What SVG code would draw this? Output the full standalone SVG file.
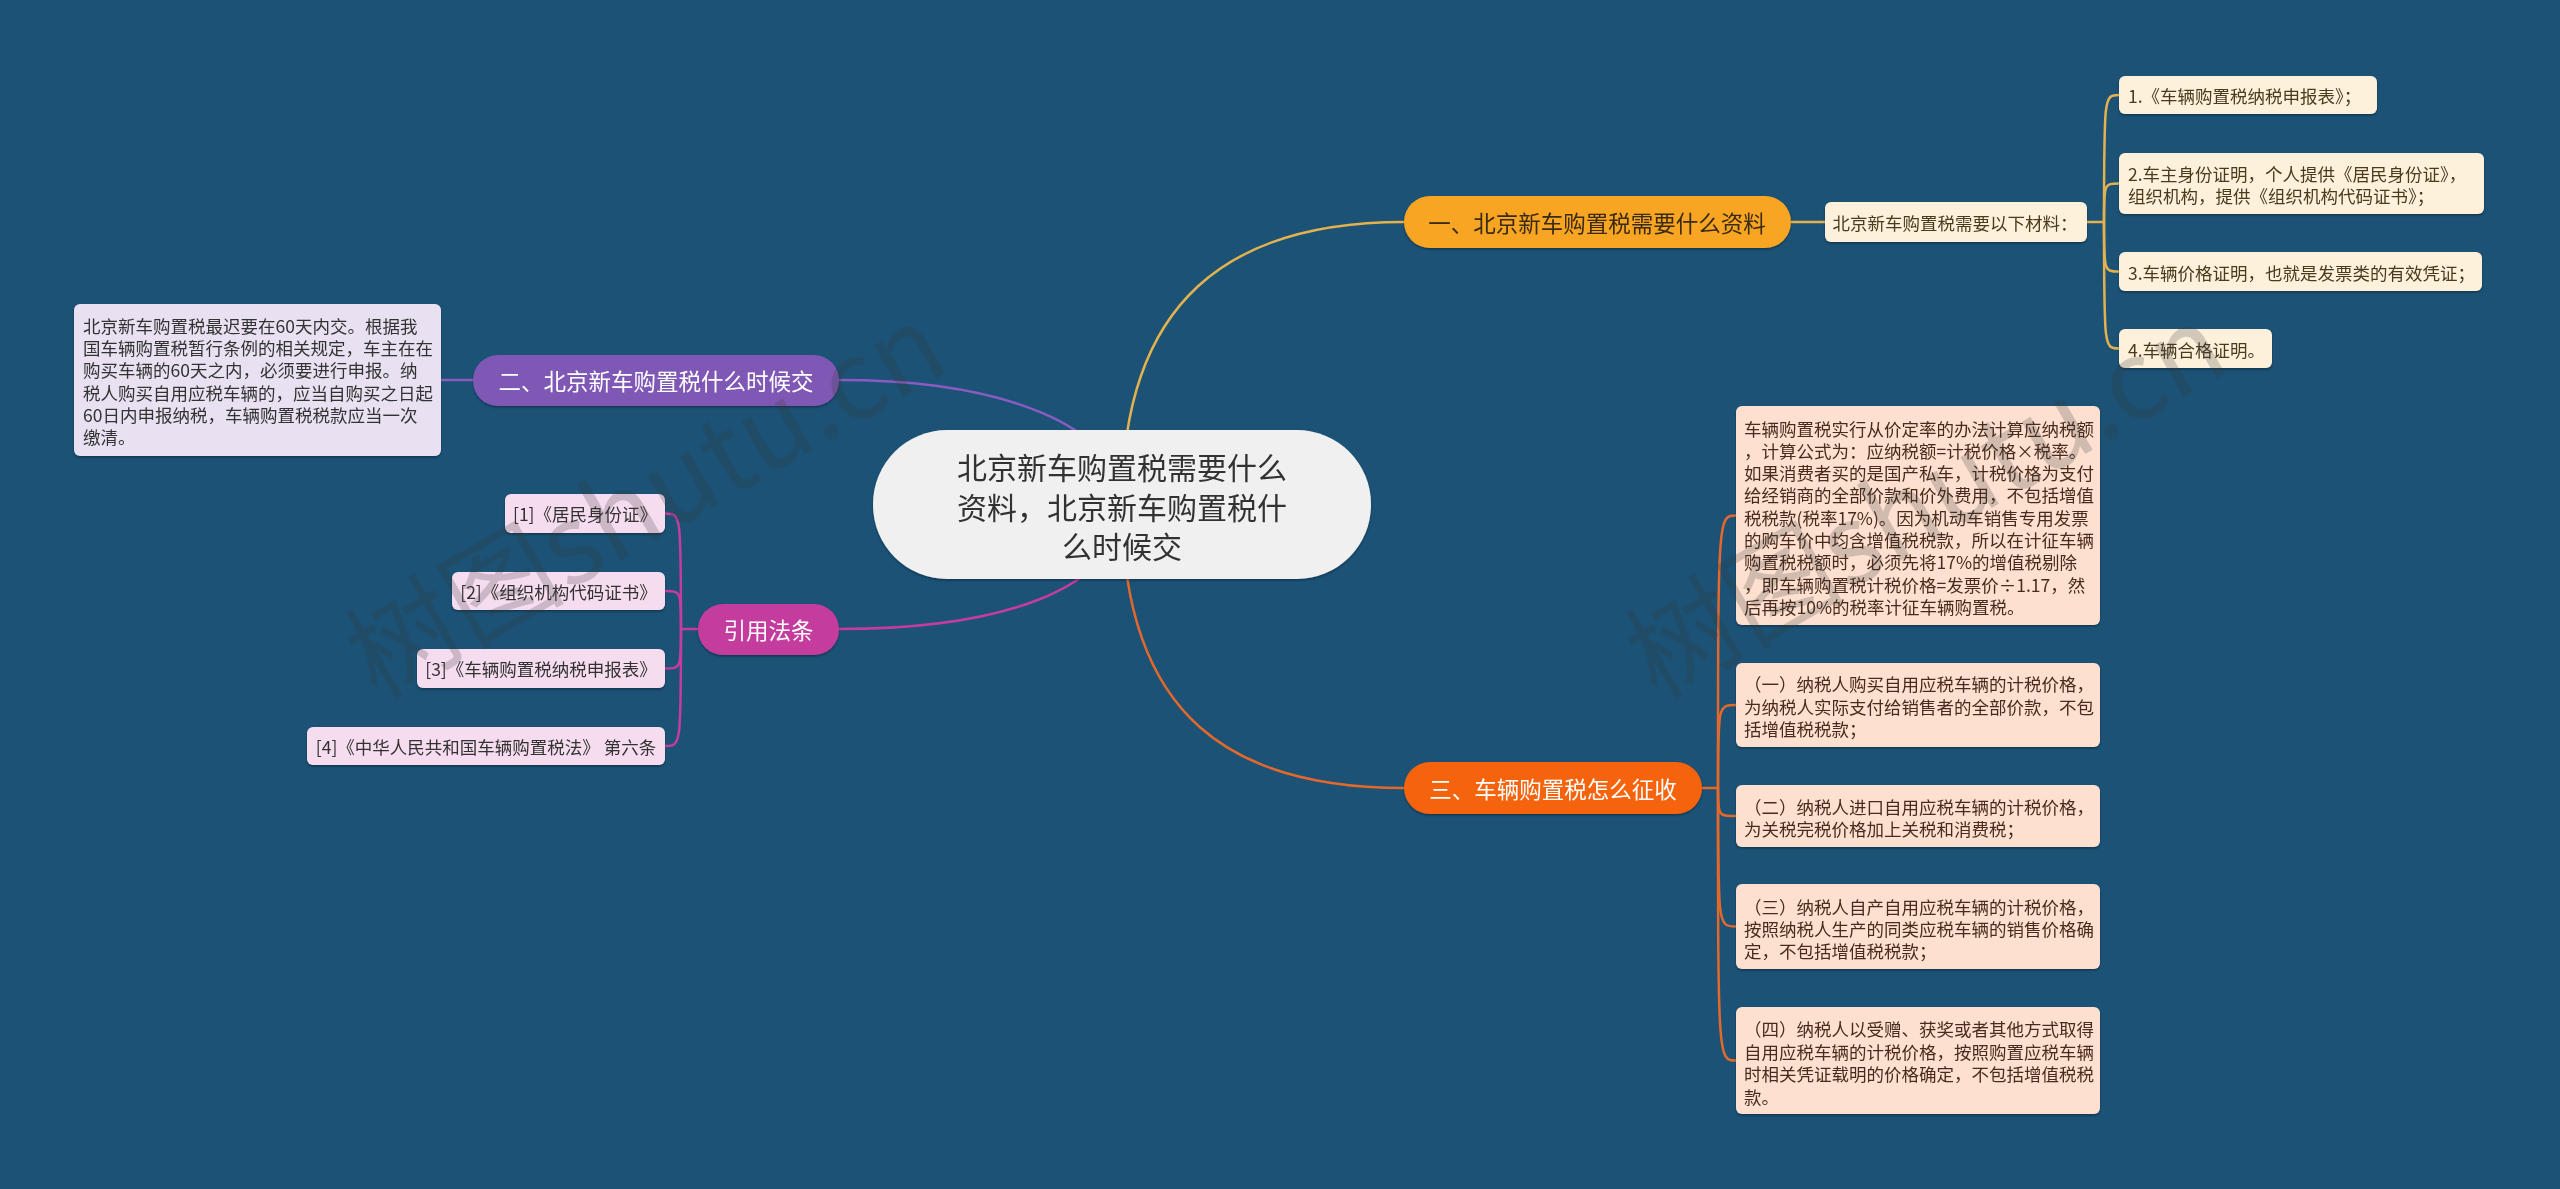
<svg xmlns="http://www.w3.org/2000/svg" width="2560" height="1189" viewBox="0 0 2560 1189">
<defs>
<filter id="sh" x="-10%" y="-20%" width="120%" height="150%">
<feDropShadow dx="0" dy="1.5" stdDeviation="1.2" flood-color="#000" flood-opacity="0.35"/>
</filter>
</defs>
<style>
text{font-family:"Noto Sans CJK SC","Noto Sans",sans-serif;dominant-baseline:central}
.c{font-size:30px;fill:#333;text-anchor:middle}
.m{font-size:22.5px;text-anchor:middle}
.s{font-size:17.5px}
.mid{text-anchor:middle}
.ln{fill:none;stroke-width:2.5}
.gold{stroke:#e3b24f}
.purp{stroke:#8a5cc2}
.mag{stroke:#c43c9e}
.org{stroke:#e2692b}
.wm{font-size:110px;fill:#3a3a3a;opacity:0.22;text-anchor:middle;dominant-baseline:alphabetic}
</style>
<rect width="2560" height="1189" fill="#1b5276"/>
<g id="connectors">
<path class="ln gold" d="M1122 504 C1122 300 1230 222 1404 222"/>
<path class="ln gold" d="M1791 222 L1825 222"/>
<path class="ln gold" d="M2087 222 L2104 222"/>
<path class="ln gold" d="M2104 222 C2104 95 2104 95 2119 95"/>
<path class="ln gold" d="M2104 222 C2104 183.5 2104 183.5 2119 183.5"/>
<path class="ln gold" d="M2104 222 C2104 271.5 2104 271.5 2119 271.5"/>
<path class="ln gold" d="M2104 222 C2104 348.5 2104 348.5 2119 348.5"/>
<path class="ln purp" d="M1122 504 C1122 425 1000 380 839 380"/>
<path class="ln purp" d="M441 380 L473 380"/>
<path class="ln mag" d="M1122 504 C1122 590 1000 629 839 629"/>
<path class="ln mag" d="M698 629 L681 629"/>
<path class="ln mag" d="M681 629 C681 513.5 681 513.5 665 513.5"/>
<path class="ln mag" d="M681 629 C681 591 681 591 665 591"/>
<path class="ln mag" d="M681 629 C681 668.5 681 668.5 665 668.5"/>
<path class="ln mag" d="M681 629 C681 746 681 746 665 746"/>
<path class="ln org" d="M1122 504 C1122 720 1235 788 1404 788"/>
<path class="ln org" d="M1702 788 L1718 788"/>
<path class="ln org" d="M1718 788 C1718 515.5 1718 515.5 1736 515.5"/>
<path class="ln org" d="M1718 788 C1718 705 1718 705 1736 705"/>
<path class="ln org" d="M1718 788 C1718 816 1718 816 1736 816"/>
<path class="ln org" d="M1718 788 C1718 926.5 1718 926.5 1736 926.5"/>
<path class="ln org" d="M1718 788 C1718 1060.5 1718 1060.5 1736 1060.5"/>
</g>
<g id="root" filter="url(#sh)">
<rect x="873" y="430" width="498" height="149" rx="74" fill="#f0f0f0"/>
<text class="c" x="1122" y="466">北京新车购置税需要什么</text>
<text class="c" x="1122" y="506">资料，北京新车购置税什</text>
<text class="c" x="1122" y="545">么时候交</text>
</g>
<g id="n1" filter="url(#sh)">
<rect x="1404" y="196" width="387" height="52" rx="26" fill="#f7a521"/>
<text class="m" x="1597" y="222" fill="#3a2a12">一、北京新车购置税需要什么资料</text>
</g>
<g id="n1-sub" filter="url(#sh)">
<rect x="1825" y="202" width="262" height="40" rx="6" fill="#fdf1dc"/>
<text class="s mid" x="1955" y="222" fill="#4a3a1e">北京新车购置税需要以下材料：</text>
</g>
<g id="n1-1" filter="url(#sh)">
<rect x="2119" y="76" width="258" height="38" rx="6" fill="#fdf1dc"/>
<text class="s" x="2128" y="95" fill="#4a3a1e">1.《车辆购置税纳税申报表》；</text>
</g>
<g id="n1-2" filter="url(#sh)">
<rect x="2119" y="153" width="365" height="61" rx="6" fill="#fdf1dc"/>
<text class="s" x="2128" y="173" fill="#4a3a1e">2.车主身份证明，个人提供《居民身份证》，</text>
<text class="s" x="2128" y="195" fill="#4a3a1e">组织机构，提供《组织机构代码证书》；</text>
</g>
<g id="n1-3" filter="url(#sh)">
<rect x="2119" y="252" width="363" height="39" rx="6" fill="#fdf1dc"/>
<text class="s" x="2128" y="272" fill="#4a3a1e">3.车辆价格证明，也就是发票类的有效凭证；</text>
</g>
<g id="n1-4" filter="url(#sh)">
<rect x="2119" y="329" width="153" height="39" rx="6" fill="#fdf1dc"/>
<text class="s" x="2128" y="349" fill="#4a3a1e">4.车辆合格证明。</text>
</g>
<g id="n2" filter="url(#sh)">
<rect x="473" y="355" width="366" height="51" rx="25" fill="#7f58b6"/>
<text class="m" x="656" y="380" fill="#fff">二、北京新车购置税什么时候交</text>
</g>
<g id="n2-1" filter="url(#sh)">
<rect x="74" y="304" width="367" height="152" rx="6" fill="#e9e1f2"/>
<text class="s" x="83" y="325" fill="#333">北京新车购置税最迟要在60天内交。根据我</text>
<text class="s" x="83" y="347" fill="#333">国车辆购置税暂行条例的相关规定，车主在在</text>
<text class="s" x="83" y="369" fill="#333">购买车辆的60天之内，必须要进行申报。纳</text>
<text class="s" x="83" y="392" fill="#333">税人购买自用应税车辆的，应当自购买之日起</text>
<text class="s" x="83" y="414" fill="#333">60日内申报纳税，车辆购置税税款应当一次</text>
<text class="s" x="83" y="436" fill="#333">缴清。</text>
</g>
<g id="n3" filter="url(#sh)">
<rect x="698" y="604" width="141" height="51" rx="25" fill="#c43c9e"/>
<text class="m" x="768.5" y="629" fill="#fff">引用法条</text>
</g>
<g id="n3-1" filter="url(#sh)">
<rect x="505" y="494" width="160" height="39" rx="6" fill="#f6dcef"/>
<text class="s mid" x="585" y="513.5" fill="#333">[1]《居民身份证》</text>
</g>
<g id="n3-2" filter="url(#sh)">
<rect x="452" y="572" width="213" height="38" rx="6" fill="#f6dcef"/>
<text class="s mid" x="558.5" y="591" fill="#333">[2]《组织机构代码证书》</text>
</g>
<g id="n3-3" filter="url(#sh)">
<rect x="417" y="649" width="248" height="39" rx="6" fill="#f6dcef"/>
<text class="s mid" x="541" y="668.5" fill="#333">[3]《车辆购置税纳税申报表》</text>
</g>
<g id="n3-4" filter="url(#sh)">
<rect x="307" y="727" width="358" height="38" rx="6" fill="#f6dcef"/>
<text class="s mid" x="486" y="746" fill="#333">[4]《中华人民共和国车辆购置税法》 第六条</text>
</g>
<g id="n4" filter="url(#sh)">
<rect x="1404" y="762" width="298" height="52" rx="26" fill="#f5630d"/>
<text class="m" x="1553" y="788" fill="#fff">三、车辆购置税怎么征收</text>
</g>
<g id="n4-1" filter="url(#sh)">
<rect x="1736" y="406" width="364" height="219" rx="6" fill="#fde0d0"/>
<text class="s" x="1744" y="428" fill="#4a2c1c">车辆购置税实行从价定率的办法计算应纳税额</text>
<text class="s" x="1744" y="450.3" fill="#4a2c1c">，计算公式为：应纳税额=计税价格×税率。</text>
<text class="s" x="1744" y="472.6" fill="#4a2c1c">如果消费者买的是国产私车，计税价格为支付</text>
<text class="s" x="1744" y="494.9" fill="#4a2c1c">给经销商的全部价款和价外费用，不包括增值</text>
<text class="s" x="1744" y="517.2" fill="#4a2c1c">税税款(税率17%)。因为机动车销售专用发票</text>
<text class="s" x="1744" y="539.5" fill="#4a2c1c">的购车价中均含增值税税款，所以在计征车辆</text>
<text class="s" x="1744" y="561.8" fill="#4a2c1c">购置税税额时，必须先将17%的增值税剔除</text>
<text class="s" x="1744" y="584.1" fill="#4a2c1c">，即车辆购置税计税价格=发票价÷1.17，然</text>
<text class="s" x="1744" y="606.4" fill="#4a2c1c">后再按10%的税率计征车辆购置税。</text>
</g>
<g id="n4-2" filter="url(#sh)">
<rect x="1736" y="663" width="364" height="84" rx="6" fill="#fde0d0"/>
<text class="s" x="1744" y="683" fill="#4a2c1c">（一）纳税人购买自用应税车辆的计税价格，</text>
<text class="s" x="1744" y="706" fill="#4a2c1c">为纳税人实际支付给销售者的全部价款，不包</text>
<text class="s" x="1744" y="728" fill="#4a2c1c">括增值税税款；</text>
</g>
<g id="n4-3" filter="url(#sh)">
<rect x="1736" y="785" width="364" height="62" rx="6" fill="#fde0d0"/>
<text class="s" x="1744" y="806" fill="#4a2c1c">（二）纳税人进口自用应税车辆的计税价格，</text>
<text class="s" x="1744" y="828" fill="#4a2c1c">为关税完税价格加上关税和消费税；</text>
</g>
<g id="n4-4" filter="url(#sh)">
<rect x="1736" y="884" width="364" height="85" rx="6" fill="#fde0d0"/>
<text class="s" x="1744" y="906" fill="#4a2c1c">（三）纳税人自产自用应税车辆的计税价格，</text>
<text class="s" x="1744" y="928" fill="#4a2c1c">按照纳税人生产的同类应税车辆的销售价格确</text>
<text class="s" x="1744" y="950" fill="#4a2c1c">定，不包括增值税税款；</text>
</g>
<g id="n4-5" filter="url(#sh)">
<rect x="1736" y="1007" width="364" height="107" rx="6" fill="#fde0d0"/>
<text class="s" x="1744" y="1028" fill="#4a2c1c">（四）纳税人以受赠、获奖或者其他方式取得</text>
<text class="s" x="1744" y="1051" fill="#4a2c1c">自用应税车辆的计税价格，按照购置应税车辆</text>
<text class="s" x="1744" y="1073" fill="#4a2c1c">时相关凭证载明的价格确定，不包括增值税税</text>
<text class="s" x="1744" y="1096" fill="#4a2c1c">款。</text>
</g>
<g id="watermarks">
<text class="wm" transform="translate(665,535) rotate(-30)">树图shutu.cn</text>
<text class="wm" transform="translate(1945,535) rotate(-30)">树图shutu.cn</text>
</g>
</svg>
